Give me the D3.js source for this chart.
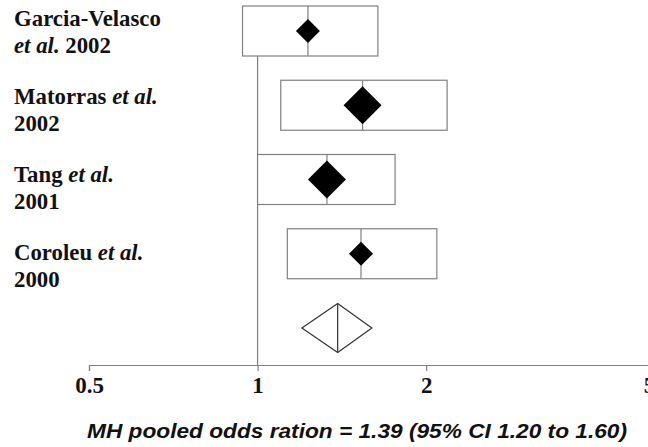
<!DOCTYPE html>
<html lang="en">
<head>
<meta charset="utf-8">
<title>MH pooled odds ratio</title>
<script src="https://cdn.jsdelivr.net/npm/d3@7/dist/d3.min.js"></script>
<style>
  body { margin: 0; background: #fff; }
  svg { display: block; }
</style>
</head>
<body>
<script>
// study labels, two lines each; segments marked italic where needed
var labelLines = [
  [[["Garcia-Velasco", false]], [["et al.", true], [" 2002", false]]],
  [[["Matorras ", false], ["et al.", true]], [["2002", false]]],
  [[["Tang ", false], ["et al.", true]], [["2001", false]]],
  [[["Coroleu ", false], ["et al.", true]], [["2000", false]]]
];
var studies = ["Garcia-Velasco 2002", "Matorras 2002", "Tang 2001", "Coroleu 2000"];
var oddsRatio = [1.23, 1.54, 1.33, 1.53];
var ciLow = [0.94, 1.10, 1.00, 1.13];
var ciHigh = [1.64, 2.18, 1.76, 2.09];
var weight = [16, 40, 40, 16];

var pooled = { or: 1.39, lo: 1.20, hi: 1.60 };
var tickValues = [0.5, 1, 2, 5];
var title = "MH pooled odds ration = 1.39 (95% CI 1.20 to 1.60)";

var w = 648, h = 447;

var svg = d3.select("body").append("svg")
  .attr("width", w)
  .attr("height", h);

var x = d3.scaleLog().domain([0.5, 5]).range([89, 649]);

// rows: four studies then the pooled estimate
var rows = studies.concat(["pooled"]);
var y = d3.scalePoint().domain(rows).range([31, 328]);
var labelY = d3.scalePoint().domain(studies).range([26, 260]);

var boxH = 50;
var size = d3.scaleSqrt().domain([0, 40]).range([0, 19]);

var grey = "#808080";
var serif = "'Liberation Serif', 'Times New Roman', serif";

// reference line at OR = 1
svg.append("line")
  .attr("x1", x(1)).attr("x2", x(1))
  .attr("y1", y(studies[0]) - boxH / 2)
  .attr("y2", 365)
  .attr("stroke", grey)
  .attr("stroke-width", 1.2);

var data = studies.map(function(s, i) {
  return { name: s, or: oddsRatio[i], lo: ciLow[i], hi: ciHigh[i], w: weight[i], lines: labelLines[i] };
});

var g = svg.selectAll("g.study")
  .data(data)
  .enter().append("g")
  .attr("class", "study");

// confidence interval boxes
g.append("rect")
  .attr("x", function(d) { return x(d.lo); })
  .attr("y", function(d) { return y(d.name) - boxH / 2; })
  .attr("width", function(d) { return x(d.hi) - x(d.lo); })
  .attr("height", boxH)
  .attr("fill", "#fff")
  .attr("stroke", grey)
  .attr("stroke-width", 1.2);

// vertical line through point estimate
g.append("line")
  .attr("x1", function(d) { return x(d.or); })
  .attr("x2", function(d) { return x(d.or); })
  .attr("y1", function(d) { return y(d.name) - boxH / 2; })
  .attr("y2", function(d) { return y(d.name) + boxH / 2; })
  .attr("stroke", grey)
  .attr("stroke-width", 1.2);

// diamonds sized by weight
g.append("path")
  .attr("d", function(d) {
    var cx = x(d.or), cy = y(d.name), r = size(d.w);
    return "M" + (cx - r) + "," + cy + "L" + cx + "," + (cy - r) +
           "L" + (cx + r) + "," + cy + "L" + cx + "," + (cy + r) + "Z";
  })
  .attr("fill", "#000");

// study labels
var lab = g.append("text")
  .attr("font-family", serif)
  .attr("font-weight", "bold")
  .attr("font-size", 22.8)
  .attr("fill", "#111");

lab.each(function(d) {
  var t = d3.select(this);
  d.lines.forEach(function(line, li) {
    line.forEach(function(seg, si) {
      var ts = t.append("tspan")
        .text(seg[0])
        .attr("font-style", seg[1] ? "italic" : "normal");
      if (si === 0) {
        ts.attr("x", 14).attr("y", labelY(d.name) + li * 27);
      }
    });
  });
});

// pooled diamond
var py = y("pooled"), ph = 24.5;
svg.append("path")
  .attr("d", "M" + x(pooled.lo) + "," + py + "L" + x(pooled.or) + "," + (py - ph) +
             "L" + x(pooled.hi) + "," + py + "L" + x(pooled.or) + "," + (py + ph) + "Z")
  .attr("fill", "#fff")
  .attr("stroke", "#333")
  .attr("stroke-width", 1.2);
svg.append("line")
  .attr("x1", x(pooled.or)).attr("x2", x(pooled.or))
  .attr("y1", py - ph).attr("y2", py + ph)
  .attr("stroke", "#333")
  .attr("stroke-width", 1.2);

// x axis
var axis = svg.append("g")
  .attr("transform", "translate(0,365)")
  .call(d3.axisBottom(x)
    .tickValues(tickValues)
    .tickFormat(d3.format("~g"))
    .tickSize(6)
    .tickSizeOuter(6));

axis.selectAll("path, line")
  .attr("stroke", grey)
  .attr("stroke-width", 1.2);
axis.selectAll("text")
  .attr("y", 28)
  .attr("dy", 0)
  .attr("font-family", serif)
  .attr("font-weight", "bold")
  .attr("font-size", 23)
  .attr("fill", "#111");

// summary line
svg.append("text")
  .attr("x", 357)
  .attr("y", 438)
  .attr("text-anchor", "middle")
  .attr("font-family", "'Liberation Sans', Arial, sans-serif")
  .attr("font-weight", "bold")
  .attr("font-style", "italic")
  .attr("font-size", 20)
  .attr("textLength", 540)
  .attr("lengthAdjust", "spacingAndGlyphs")
  .attr("fill", "#111")
  .text(title);
</script>
</body>
</html>
